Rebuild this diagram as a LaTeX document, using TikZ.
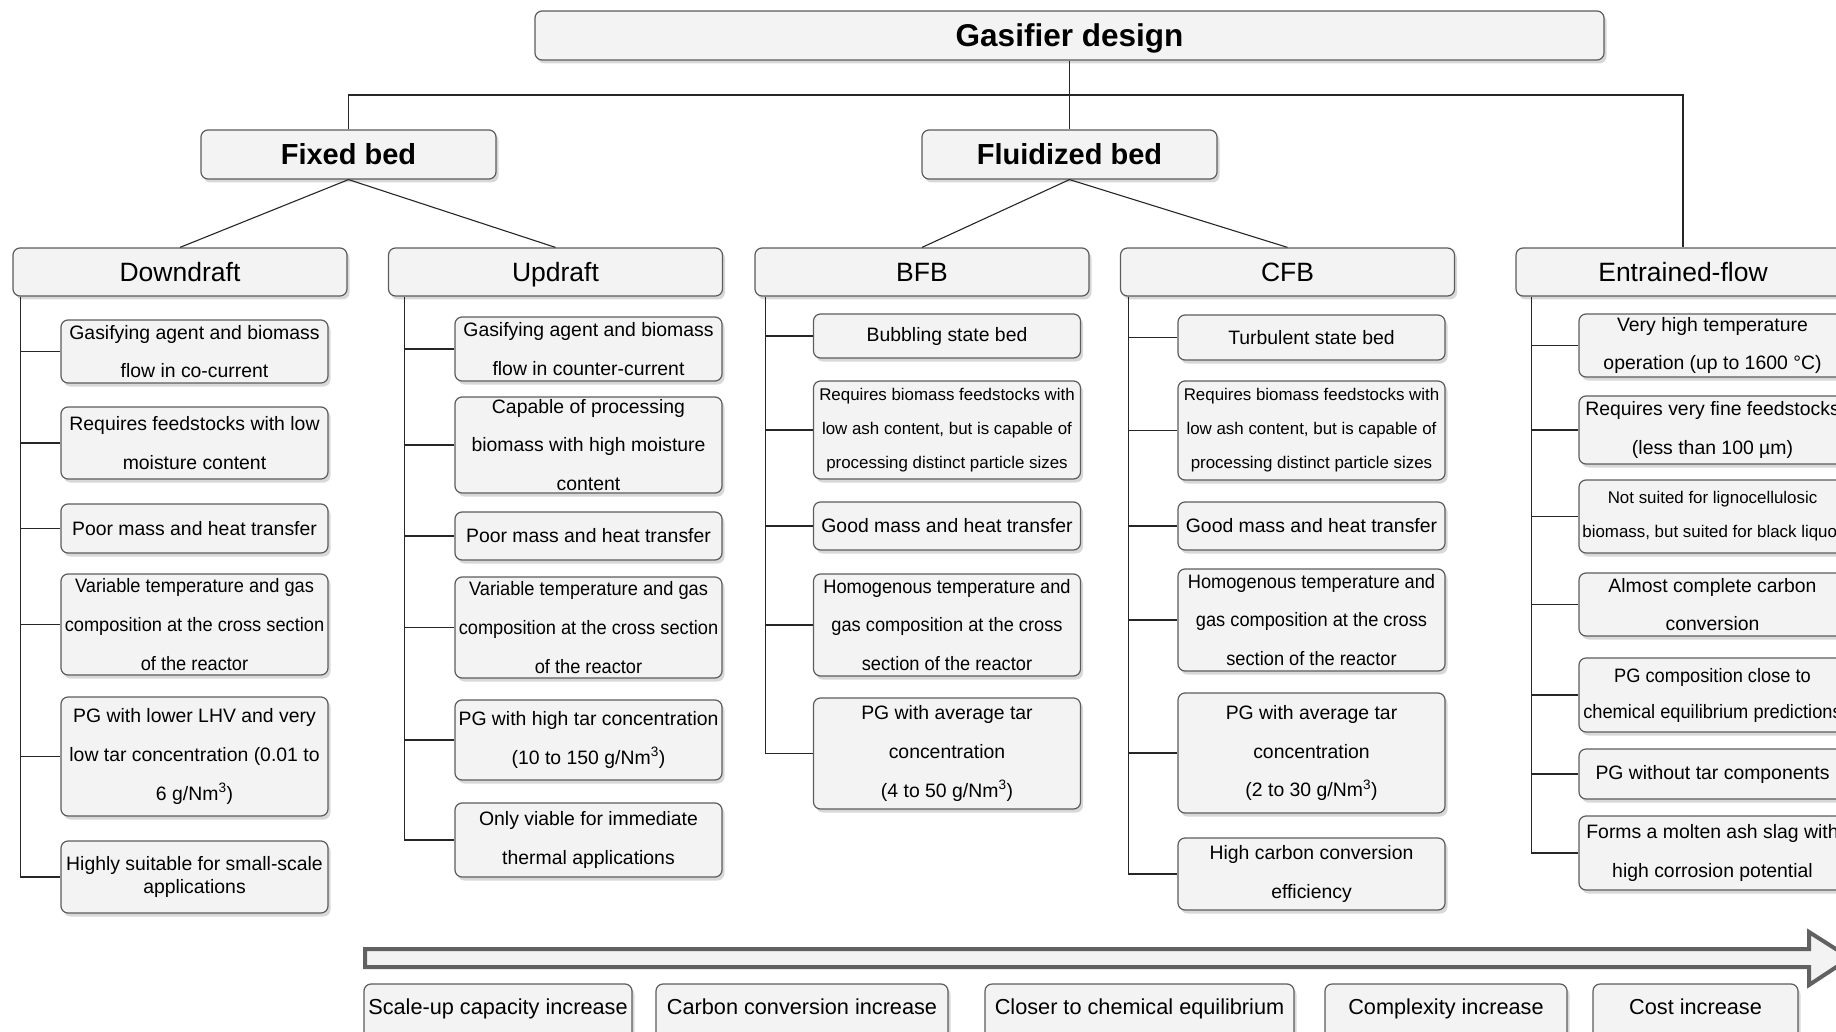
\documentclass[tikz,border=0pt]{standalone}
\usepackage{fontspec}
\setmainfont{Liberation Sans}
\newfontfamily\narrowfont[FakeStretch=0.94]{Liberation Sans}
\usepackage{tikz}
\usetikzlibrary{positioning}
\usetikzlibrary{shadows}
\definecolor{boxfill}{HTML}{F3F3F3}
\definecolor{boxline}{HTML}{5C5C5C}
\tikzset{my_diagram/.style={x=1pt,y=-1pt}}
\tikzset{my_box/.style={rectangle, rounded corners=7pt, draw=boxline, fill=boxfill, line width=1.2pt, align=center, inner xsep=1pt, inner ysep=1pt, drop shadow={shadow xshift=2.5pt, shadow yshift=-3.5pt, fill=black!30}}}
\tikzset{my_root/.style={my_box, minimum width=1069pt, minimum height=49pt, text height=22.5pt, text depth=0pt, font=\fontsize{31.5}{34}\selectfont\bfseries}}
\tikzset{my_family/.style={my_box, minimum width=295pt, minimum height=49pt, text height=20.8pt, text depth=0pt, font=\fontsize{29}{32}\selectfont\bfseries}}
\tikzset{my_type/.style={my_box, minimum width=334pt, minimum height=48pt, text height=19pt, text depth=0pt, font=\fontsize{26.5}{30}\selectfont}}
\tikzset{my_item/.style={my_box, minimum width=267pt, font=\fontsize{19.4}{38.6}\selectfont}}
\tikzset{my_narrow_item/.style={my_item, font=\narrowfont\fontsize{19.4}{38.6}\selectfont}}
\tikzset{my_small_item/.style={my_item, font=\fontsize{16.9}{34}\selectfont}}
\tikzset{my_trend/.style={my_box, minimum height=56pt, text height=15.5pt, text depth=10pt, font=\fontsize{21.7}{25}\selectfont}}
\tikzset{my_link/.style={draw=black!85, line width=1.1pt}}
\tikzset{my_arrow/.style={draw=black!62, fill=boxfill, line width=4pt, line join=miter}}

\begin{document}
\begin{tikzpicture}[my_diagram]
    \useasboundingbox (0,0) rectangle (1836,1032);
    %\draw[help lines, step=100] (0,0) grid (1836,1032);

    % top levels
    \node[my_root] (root) at (1069.5,35.5) {Gasifier design};
    \node[my_family] (fixed) at (348.5,154.5) {Fixed bed};
    \node[my_family] (fluid) at (1069.5,154.5) {Fluidized bed};

    \node[my_type] (down) at (180,272) {Downdraft};
    \node[my_type] (up) at (555.5,272) {Updraft};
    \node[my_type] (bfb) at (922,272) {BFB};
    \node[my_type] (cfb) at (1287.5,272) {CFB};
    \node[my_type] (entr) at (1683,272) {Entrained-flow};

    % downdraft
    \node[my_item, minimum height=63pt] (d1) at (194.5,351.5) {Gasifying agent and biomass\\flow in co-current};
    \node[my_item, minimum height=72pt] (d2) at (194.5,443) {Requires feedstocks with low\\moisture content};
    \node[my_item, minimum height=49pt] (d3) at (194.5,528.5) {Poor mass and heat transfer};
    \node[my_narrow_item, minimum height=101pt] (d4) at (194.5,624.5) {Variable temperature and gas\\composition at the cross section\\of the reactor};
    \node[my_item, minimum height=119pt] (d5) at (194.5,756.5) {PG with lower LHV and very\\low tar concentration (0.01 to\\6 g/Nm\textsuperscript{3})};
    \node[my_item, minimum height=72pt, font=\fontsize{19.4}{23.4}\selectfont] (d6) at (194.5,877) {Highly suitable for small-scale\\applications};

    % updraft
    \node[my_item, minimum height=64pt] (u1) at (588.5,349) {Gasifying agent and biomass\\flow in counter-current};
    \node[my_item, minimum height=96pt] (u2) at (588.5,445) {Capable of processing\\biomass with high moisture\\content};
    \node[my_item, minimum height=48pt] (u3) at (588.5,536) {Poor mass and heat transfer};
    \node[my_narrow_item, minimum height=101pt] (u4) at (588.5,627.5) {Variable temperature and gas\\composition at the cross section\\of the reactor};
    \node[my_item, minimum height=80pt] (u5) at (588.5,740) {PG with high tar concentration\\(10 to 150 g/Nm\textsuperscript{3})};
    \node[my_item, minimum height=74pt] (u6) at (588.5,840) {Only viable for immediate\\thermal applications};

    % bfb
    \node[my_item, minimum height=44pt] (b1) at (947,336) {Bubbling state bed};
    \node[my_small_item, minimum height=98pt] (b2) at (947,430) {Requires biomass feedstocks with\\low ash content, but is capable of\\processing distinct particle sizes};
    \node[my_item, minimum height=48pt] (b3) at (947,526) {Good mass and heat transfer};
    \node[my_narrow_item, minimum height=102pt] (b4) at (947,625) {Homogenous temperature and\\gas composition at the cross\\section of the reactor};
    \node[my_item, minimum height=111pt] (b5) at (947,753.5) {PG with average tar\\concentration\\(4 to 50 g/Nm\textsuperscript{3})};

    % cfb
    \node[my_item, minimum height=45pt] (c1) at (1311.5,337.5) {Turbulent state bed};
    \node[my_small_item, minimum height=99pt] (c2) at (1311.5,430.5) {Requires biomass feedstocks with\\low ash content, but is capable of\\processing distinct particle sizes};
    \node[my_item, minimum height=48pt] (c3) at (1311.5,526) {Good mass and heat transfer};
    \node[my_narrow_item, minimum height=102pt] (c4) at (1311.5,620) {Homogenous temperature and\\gas composition at the cross\\section of the reactor};
    \node[my_item, minimum height=120pt] (c5) at (1311.5,753) {PG with average tar\\concentration\\(2 to 30 g/Nm\textsuperscript{3})};
    \node[my_item, minimum height=72pt] (c6) at (1311.5,874) {High carbon conversion\\efficiency};

    % entrained flow
    \node[my_item, minimum height=63pt] (e1) at (1712.5,345.5) {Very high temperature\\operation (up to 1600 °C)};
    \node[my_item, minimum height=68pt] (e2) at (1712.5,430) {Requires very fine feedstocks\\(less than 100 µm)};
    \node[my_small_item, minimum height=73pt] (e3) at (1712.5,516.5) {Not suited for lignocellulosic\\biomass, but suited for black liquor};
    \node[my_item, minimum height=63pt] (e4) at (1712.5,604.5) {Almost complete carbon\\conversion};
    \node[my_narrow_item, minimum height=74pt, font=\narrowfont\fontsize{19.4}{36}\selectfont] (e5) at (1712.5,695) {PG composition close to\\chemical equilibrium predictions};
    \node[my_item, minimum height=50pt] (e6) at (1712.5,774) {PG without tar components};
    \node[my_item, minimum height=74pt] (e7) at (1712.5,853) {Forms a molten ash slag with\\high corrosion potential};

    % trend
    \draw[my_arrow] (365,949) -- (1809,949) -- (1809,932) -- (1850,958) -- (1809,985) -- (1809,967) -- (365,967) -- cycle;
    \node[my_trend, minimum width=268pt] (t1) at (498,1012) {Scale-up capacity increase};
    \node[my_trend, minimum width=292pt] (t2) at (802,1012) {Carbon conversion increase};
    \node[my_trend, minimum width=309pt] (t3) at (1139.5,1012) {Closer to chemical equilibrium};
    \node[my_trend, minimum width=242pt] (t4) at (1446,1012) {Complexity increase};
    \node[my_trend, minimum width=205pt] (t5) at (1695.5,1012) {Cost increase};

    % links
    \coordinate (bus) at (0,95);
    \draw[my_link] (root.south) -- (fluid.north);
    \draw[my_link] (fixed.north) |- (bus -| entr.north) -- (entr.north);
    \draw[my_link] (fixed.south) -- (down.north) (fixed.south) -- (up.north);
    \draw[my_link] (fluid.south) -- (bfb.north) (fluid.south) -- (cfb.north);

    \coordinate (down_spine) at ([xshift=8pt]down.south west);
    \coordinate (up_spine) at ([xshift=17pt]up.south west);
    \coordinate (bfb_spine) at ([xshift=11pt]bfb.south west);
    \coordinate (cfb_spine) at ([xshift=9pt]cfb.south west);
    \coordinate (entr_spine) at ([xshift=16pt]entr.south west);

    \draw[my_link] (down_spine) |- (d6.west)
        (d1.west -| down_spine) -- (d1.west) (d2.west -| down_spine) -- (d2.west)
        (d3.west -| down_spine) -- (d3.west) (d4.west -| down_spine) -- (d4.west)
        (d5.west -| down_spine) -- (d5.west);
    \draw[my_link] (up_spine) |- (u6.west)
        (u1.west -| up_spine) -- (u1.west) (u2.west -| up_spine) -- (u2.west)
        (u3.west -| up_spine) -- (u3.west) (u4.west -| up_spine) -- (u4.west)
        (u5.west -| up_spine) -- (u5.west);
    \draw[my_link] (bfb_spine) |- (b5.west)
        (b1.west -| bfb_spine) -- (b1.west) (b2.west -| bfb_spine) -- (b2.west)
        (b3.west -| bfb_spine) -- (b3.west) (b4.west -| bfb_spine) -- (b4.west);
    \draw[my_link] (cfb_spine) |- (c6.west)
        (c1.west -| cfb_spine) -- (c1.west) (c2.west -| cfb_spine) -- (c2.west)
        (c3.west -| cfb_spine) -- (c3.west) (c4.west -| cfb_spine) -- (c4.west)
        (c5.west -| cfb_spine) -- (c5.west);
    \draw[my_link] (entr_spine) |- (e7.west)
        (e1.west -| entr_spine) -- (e1.west) (e2.west -| entr_spine) -- (e2.west)
        (e3.west -| entr_spine) -- (e3.west) (e4.west -| entr_spine) -- (e4.west)
        (e5.west -| entr_spine) -- (e5.west) (e6.west -| entr_spine) -- (e6.west);
\end{tikzpicture}
\end{document}
